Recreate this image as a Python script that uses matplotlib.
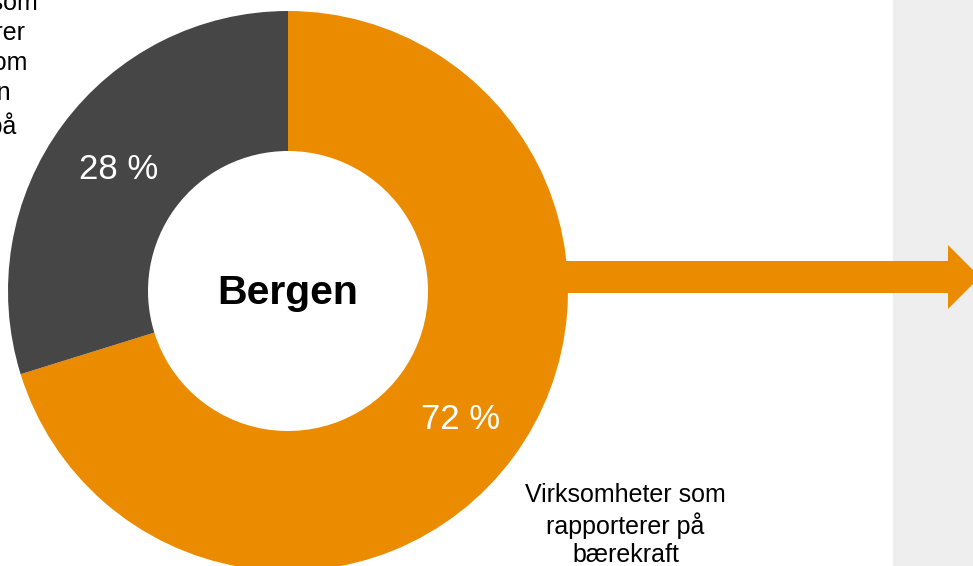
import matplotlib.pyplot as plt
from matplotlib.patches import FancyArrow, Rectangle

plt.rcParams["font.family"] = ["Liberation Sans", "DejaVu Sans"]

# data (ringens andeler slik de er tegnet, og etikettene som står i figuren)
kategorier = ["Rapporterer", "Rapporterer ikke"]
andeler = [70.2, 29.8]
prosent_etiketter = ["72 %", "28 %"]
farger = ["#EB8C00", "#464646"]
by = "Bergen"
etikett_rapporterer = "Virksomheter som\nrapporterer på\nbærekraft"
etikett_ikke = "Virksomheter som\nikke rapporterer\neller vet ikke om\nvirksomheten\nrapporterer på\nbærekraft"

W, H = 973, 566
fig = plt.figure(figsize=(W / 100, H / 100), dpi=100)
ax = fig.add_axes([0, 0, 1, 1])

# grått felt til høyre
ax.add_patch(Rectangle((893, 0), W - 893, H, color="#EEEEEE", zorder=0))

cx, cy = 288, H - 291
wedges, _ = ax.pie(
    andeler,
    colors=farger,
    startangle=90,
    counterclock=False,
    radius=280,
    center=(cx, cy),
    wedgeprops=dict(width=140, edgecolor="none"),
)
for w in wedges:
    w.set_zorder(2)

# pil ut fra ringen
ax.add_patch(FancyArrow(560, H - 277, 420, 0, width=32, head_width=64,
                        head_length=32, length_includes_head=True,
                        color="#EB8C00", lw=0, zorder=1))

ax.text(cx, H - 304, by, ha="center", va="baseline", fontsize=29.5,
        fontweight="bold", color="black", zorder=3)
ax.text(460.5, H - 429, prosent_etiketter[0], ha="center", va="baseline",
        fontsize=25, color="white", zorder=3)
ax.text(119, H - 179, prosent_etiketter[1], ha="center", va="baseline",
        fontsize=25, color="white", zorder=3)

# baseline = siste linje for tekst med flere linjer
ax.text(625.5, H - 562, etikett_rapporterer, ha="center", va="baseline",
        fontsize=18, linespacing=1.235, multialignment="center", zorder=3)
ax.text(-62.5, H - 164, etikett_ikke, ha="center", va="baseline",
        fontsize=18, linespacing=1.32, multialignment="center", zorder=3)

ax.set_xlim(0, W)
ax.set_ylim(0, H)
ax.set_aspect("auto")
ax.axis("off")

fig.savefig("out.png", dpi=100)
